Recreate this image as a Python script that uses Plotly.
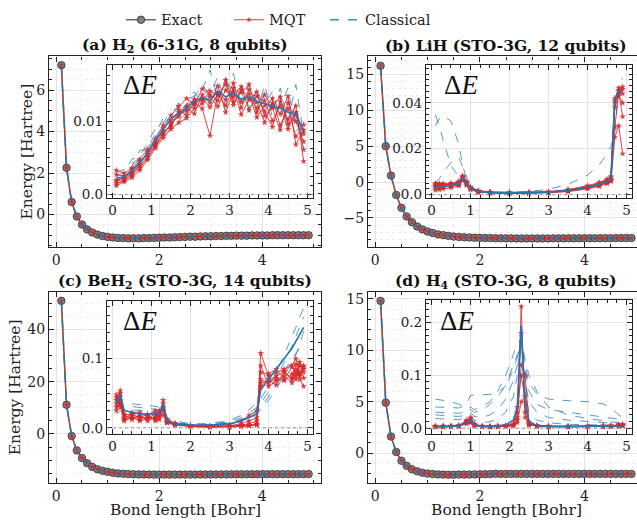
import plotly.graph_objects as go

W, H = 637, 523

# ---------------- data ----------------
BOND = [0.1, 0.2, 0.3, 0.4, 0.5, 0.6, 0.7, 0.8, 0.9, 1.0,
        1.1, 1.2, 1.3, 1.4, 1.5, 1.6, 1.7, 1.8, 1.9, 2.0,
        2.1, 2.2, 2.3, 2.4, 2.5, 2.6, 2.7, 2.8, 2.9, 3.0,
        3.1, 3.2, 3.3, 3.4, 3.5, 3.6, 3.7, 3.8, 3.9, 4.0,
        4.1, 4.2, 4.3, 4.4, 4.5, 4.6, 4.7, 4.8, 4.9]

H2_EXACT = [7.20, 2.25, 0.60, -0.10, -0.48, -0.72, -0.87, -0.97, -1.04, -1.08,
            -1.11, -1.13, -1.14, -1.15, -1.15, -1.15, -1.14, -1.14, -1.13, -1.12,
            -1.11, -1.11, -1.10, -1.09, -1.08, -1.07, -1.07, -1.06, -1.05, -1.05,
            -1.04, -1.04, -1.03, -1.03, -1.02, -1.02, -1.02, -1.01, -1.01, -1.01,
            -1.01, -1.00, -1.00, -1.00, -1.00, -1.00, -1.00, -1.00, -1.00]
LIH_EXACT = [16.20, 5.00, 0.90, -1.80, -3.60, -4.80, -5.60, -6.20, -6.60, -6.90,
             -7.10, -7.30, -7.40, -7.50, -7.60, -7.65, -7.70, -7.73, -7.76, -7.78,
             -7.80, -7.81, -7.83, -7.84, -7.85, -7.85, -7.86, -7.86, -7.86, -7.86,
             -7.86, -7.86, -7.86, -7.85, -7.85, -7.85, -7.84, -7.84, -7.84, -7.83,
             -7.83, -7.83, -7.82, -7.82, -7.82, -7.81, -7.81, -7.81, -7.80]
BEH2_EXACT = [51.0, 11.2, -0.8, -6.3, -9.2, -11.2, -12.6, -13.5, -14.1, -14.5,
              -14.85, -15.1, -15.25, -15.35, -15.42, -15.47, -15.50, -15.53, -15.55, -15.56,
              -15.56, -15.56, -15.56, -15.55, -15.55, -15.54, -15.53, -15.52, -15.51, -15.50,
              -15.49, -15.48, -15.47, -15.46, -15.45, -15.44, -15.43, -15.42, -15.41, -15.40,
              -15.40, -15.39, -15.39, -15.38, -15.38, -15.37, -15.37, -15.37, -15.36]
H4_EXACT = [14.80, 4.90, 1.60, 0.10, -0.75, -1.25, -1.58, -1.78, -1.92, -2.00,
            -2.05, -2.08, -2.10, -2.11, -2.11, -2.10, -2.10, -2.09, -2.08, -2.07,
            -2.06, -2.05, -2.02, -2.04, -2.04, -2.03, -2.03, -2.03, -2.03, -2.03,
            -2.03, -2.03, -2.03, -2.03, -2.03, -2.03, -2.03, -2.03, -2.03, -2.03,
            -2.03, -2.03, -2.03, -2.03, -2.03, -2.03, -2.03, -2.03, -2.03]

# ---- inset: Delta E (H2) ----
H2_DX = [0.1, 0.3, 0.5, 0.7, 0.9, 1.1, 1.3, 1.5, 1.7, 1.9, 2.1, 2.3, 2.5,
         2.7, 2.9, 3.1, 3.3, 3.5, 3.7, 3.9, 4.1, 4.3, 4.5, 4.7, 4.9]
H2_MQT = [
    [0.0020, 0.0022, 0.0030, 0.0041, 0.0058, 0.0072, 0.0090, 0.0101, 0.0112, 0.0121, 0.0130, 0.0128, 0.0141,
     0.0135, 0.0150, 0.0122, 0.0143, 0.0131, 0.0118, 0.0128, 0.0100, 0.0121, 0.0089, 0.0112, 0.0061],
    [0.0015, 0.0019, 0.0026, 0.0036, 0.0050, 0.0066, 0.0081, 0.0097, 0.0106, 0.0118, 0.0110, 0.0136, 0.0125,
     0.0148, 0.0112, 0.0140, 0.0126, 0.0137, 0.0105, 0.0121, 0.0131, 0.0094, 0.0117, 0.0079, 0.0095],
    [0.0027, 0.0025, 0.0034, 0.0045, 0.0055, 0.0070, 0.0086, 0.0092, 0.0115, 0.0108, 0.0126, 0.0117, 0.0080,
     0.0139, 0.0129, 0.0152, 0.0118, 0.0143, 0.0126, 0.0098, 0.0125, 0.0110, 0.0134, 0.0068, 0.0088],
    [0.0012, 0.0017, 0.0023, 0.0033, 0.0047, 0.0063, 0.0077, 0.0089, 0.0098, 0.0104, 0.0117, 0.0124, 0.0133,
     0.0120, 0.0142, 0.0133, 0.0147, 0.0115, 0.0134, 0.0113, 0.0092, 0.0127, 0.0102, 0.0121, 0.0045],
    [0.0033, 0.0029, 0.0036, 0.0048, 0.0061, 0.0076, 0.0094, 0.0108, 0.0120, 0.0131, 0.0122, 0.0144, 0.0136,
     0.0128, 0.0156, 0.0126, 0.0139, 0.0150, 0.0112, 0.0136, 0.0118, 0.0088, 0.0125, 0.0100, 0.0072],
    [0.0018, 0.0021, 0.0028, 0.0039, 0.0052, 0.0068, 0.0083, 0.0095, 0.0109, 0.0114, 0.0124, 0.0131, 0.0119,
     0.0137, 0.0121, 0.0145, 0.0109, 0.0129, 0.0140, 0.0107, 0.0120, 0.0133, 0.0096, 0.0108, 0.0083],
]
H2_CLS = [
    [0.0025, 0.0030, 0.0048, 0.0052, 0.0070, 0.0090, 0.0098, 0.0112, 0.0120, 0.0128, 0.0135, 0.0142, 0.0170,
     0.0130, 0.0155, 0.0140, 0.0128, 0.0150, 0.0120, 0.0138, 0.0110, 0.0145, 0.0100, 0.0150, 0.0080],
    [0.0018, 0.0026, 0.0038, 0.0060, 0.0062, 0.0082, 0.0104, 0.0100, 0.0115, 0.0122, 0.0140, 0.0125, 0.0138,
     0.0160, 0.0120, 0.0145, 0.0152, 0.0118, 0.0135, 0.0125, 0.0140, 0.0105, 0.0128, 0.0098, 0.0090],
    [0.0014, 0.0020, 0.0028, 0.0040, 0.0058, 0.0066, 0.0080, 0.0090, 0.0100, 0.0112, 0.0120, 0.0135, 0.0145,
     0.0122, 0.0160, 0.0130, 0.0140, 0.0112, 0.0145, 0.0115, 0.0125, 0.0135, 0.0090, 0.0125, 0.0065],
    [0.0030, 0.0034, 0.0042, 0.0050, 0.0064, 0.0078, 0.0092, 0.0108, 0.0125, 0.0110, 0.0132, 0.0150, 0.0135,
     0.0148, 0.0138, 0.0165, 0.0122, 0.0140, 0.0110, 0.0150, 0.0105, 0.0120, 0.0145, 0.0085, 0.0100],
]
H2_CLS_MEAN = [0.0022, 0.0024, 0.0032, 0.0044, 0.0056, 0.0074, 0.0088, 0.0104, 0.0110, 0.0118, 0.0127, 0.0132, 0.0128,
               0.0141, 0.0133, 0.0138, 0.0130, 0.0133, 0.0126, 0.0124, 0.0120, 0.0118, 0.0112, 0.0110, 0.0085]

# ---- inset: Delta E (LiH) ----
LIH_DX = [0.1, 0.2, 0.3, 0.5, 0.7, 0.8, 0.9, 1.0, 1.2, 1.5, 2.0, 2.5, 3.0, 3.5, 4.0, 4.3, 4.5, 4.6, 4.7, 4.8, 4.9]
LIH_MQT = [
    [0.0040, 0.0041, 0.0042, 0.0045, 0.0052, 0.0076, 0.0050, 0.0030, 0.0015, 0.0010, 0.0008, 0.0008, 0.0010, 0.0018, 0.0032, 0.0045, 0.0058, 0.0068, 0.0400, 0.0455, 0.0460],
    [0.0030, 0.0031, 0.0033, 0.0036, 0.0043, 0.0068, 0.0045, 0.0025, 0.0012, 0.0008, 0.0006, 0.0007, 0.0009, 0.0015, 0.0028, 0.0040, 0.0052, 0.0062, 0.0295, 0.0440, 0.0440],
    [0.0050, 0.0049, 0.0048, 0.0050, 0.0058, 0.0082, 0.0056, 0.0033, 0.0018, 0.0012, 0.0010, 0.0010, 0.0012, 0.0020, 0.0035, 0.0050, 0.0064, 0.0075, 0.0420, 0.0450, 0.0340],
    [0.0020, 0.0022, 0.0025, 0.0030, 0.0038, 0.0062, 0.0040, 0.0022, 0.0010, 0.0007, 0.0005, 0.0005, 0.0008, 0.0013, 0.0025, 0.0036, 0.0048, 0.0058, 0.0250, 0.0300, 0.0178],
    [0.0035, 0.0036, 0.0038, 0.0040, 0.0047, 0.0072, 0.0048, 0.0028, 0.0014, 0.0009, 0.0007, 0.0007, 0.0011, 0.0017, 0.0030, 0.0042, 0.0055, 0.0064, 0.0380, 0.0430, 0.0400],
    [0.0045, 0.0044, 0.0044, 0.0046, 0.0053, 0.0079, 0.0053, 0.0031, 0.0016, 0.0011, 0.0009, 0.0009, 0.0013, 0.0022, 0.0039, 0.0053, 0.0068, 0.0080, 0.0410, 0.0465, 0.0470],
]
LIH_CLS = [
    [0.0300, 0.0330, 0.0345, 0.0320, 0.0220, 0.0130, 0.0065, 0.0035, 0.0016, 0.0011, 0.0009, 0.0009, 0.0012, 0.0020, 0.0036, 0.0050, 0.0064, 0.0075, 0.0430, 0.0450, 0.0455],
    [0.0347, 0.0300, 0.0237, 0.0125, 0.0080, 0.0070, 0.0050, 0.0030, 0.0015, 0.0010, 0.0008, 0.0008, 0.0011, 0.0019, 0.0034, 0.0048, 0.0061, 0.0071, 0.0400, 0.0440, 0.0450],
    [0.0050, 0.0070, 0.0095, 0.0140, 0.0163, 0.0120, 0.0070, 0.0035, 0.0016, 0.0011, 0.0009, 0.0009, 0.0012, 0.0020, 0.0037, 0.0052, 0.0066, 0.0078, 0.0410, 0.0460, 0.0470],
    [0.0040, 0.0040, 0.0041, 0.0045, 0.0052, 0.0076, 0.0052, 0.0030, 0.0016, 0.0011, 0.0010, 0.0014, 0.0023, 0.0045, 0.0085, 0.0130, 0.0178, 0.0210, 0.0270, 0.0485, 0.0510],
]
LIH_CLS_MEAN = [0.0035, 0.0036, 0.0037, 0.0040, 0.0047, 0.0073, 0.0049, 0.0028, 0.0014, 0.0009, 0.0008, 0.0008, 0.0011, 0.0018, 0.0032, 0.0045, 0.0058, 0.0068, 0.0420, 0.0450, 0.0450]

# ---- inset: Delta E (BeH2) ----
BEH2_DX = [0.1, 0.2, 0.3, 0.5, 0.7, 0.9, 1.1, 1.2, 1.3, 1.4, 1.6, 2.0, 2.5, 3.0, 3.3, 3.5, 3.7, 3.8, 4.0, 4.2, 4.4, 4.6, 4.7, 4.8, 4.9]
BEH2_MQT = [
    [0.040, 0.054, 0.015, 0.018, 0.016, 0.014, 0.020, 0.015, 0.040, 0.010, 0.006, 0.003, 0.002, 0.002, 0.003, 0.004, 0.006, 0.108, 0.075, 0.080, 0.085, 0.090, 0.100, 0.080, 0.085],
    [0.030, 0.045, 0.012, 0.022, 0.012, 0.017, 0.012, 0.025, 0.030, 0.008, 0.005, 0.002, 0.001, 0.001, 0.002, 0.003, 0.004, 0.070, 0.065, 0.072, 0.068, 0.078, 0.070, 0.090, 0.072],
    [0.048, 0.035, 0.020, 0.012, 0.019, 0.010, 0.016, 0.022, 0.018, 0.009, 0.006, 0.003, 0.002, 0.003, 0.006, 0.010, 0.015, 0.060, 0.070, 0.062, 0.080, 0.072, 0.085, 0.075, 0.090],
    [0.025, 0.040, 0.010, 0.015, 0.010, 0.013, 0.014, 0.012, 0.025, 0.007, 0.004, 0.002, 0.001, 0.001, 0.002, 0.003, 0.005, 0.090, 0.060, 0.068, 0.075, 0.065, 0.080, 0.070, 0.060],
    [0.035, 0.050, 0.018, 0.020, 0.022, 0.018, 0.025, 0.018, 0.035, 0.012, 0.007, 0.004, 0.003, 0.005, 0.010, 0.018, 0.025, 0.080, 0.078, 0.085, 0.070, 0.088, 0.075, 0.095, 0.080],
    [0.044, 0.030, 0.013, 0.014, 0.015, 0.020, 0.010, 0.020, 0.028, 0.008, 0.005, 0.003, 0.002, 0.002, 0.004, 0.006, 0.010, 0.065, 0.068, 0.075, 0.082, 0.070, 0.092, 0.078, 0.088],
]
BEH2_CLS = [
    [0.035, 0.040, 0.036, 0.035, 0.034, 0.032, 0.031, 0.030, 0.028, 0.015, 0.010, 0.006, 0.006, 0.011, 0.018, 0.026, 0.036, 0.042, 0.060, 0.080, 0.105, 0.130, 0.145, 0.160, 0.173],
    [0.030, 0.034, 0.032, 0.031, 0.030, 0.029, 0.027, 0.026, 0.025, 0.012, 0.008, 0.005, 0.005, 0.009, 0.015, 0.021, 0.030, 0.036, 0.052, 0.072, 0.095, 0.118, 0.132, 0.146, 0.160],
    [0.025, 0.028, 0.027, 0.026, 0.025, 0.025, 0.024, 0.023, 0.022, 0.010, 0.007, 0.004, 0.004, 0.008, 0.012, 0.017, 0.024, 0.029, 0.045, 0.062, 0.082, 0.100, 0.108, 0.115, 0.120],
    [0.020, 0.024, 0.022, 0.021, 0.020, 0.020, 0.019, 0.019, 0.018, 0.009, 0.006, 0.004, 0.004, 0.007, 0.011, 0.015, 0.021, 0.026, 0.040, 0.056, 0.075, 0.095, 0.105, 0.120, 0.140],
]
BEH2_CLS_MEAN = [0.035, 0.048, 0.025, 0.022, 0.020, 0.020, 0.021, 0.020, 0.035, 0.010, 0.006, 0.004, 0.004, 0.006, 0.010, 0.015, 0.020, 0.055, 0.070, 0.085, 0.100, 0.115, 0.125, 0.135, 0.145]

# ---- inset: Delta E (H4) ----
H4_DX = [0.1, 0.3, 0.5, 0.7, 0.9, 1.0, 1.1, 1.3, 1.5, 1.7, 1.9, 2.1, 2.2, 2.3, 2.4, 2.5, 2.7, 3.0, 3.5, 4.0, 4.4, 4.6, 4.8, 4.9]
H4_MQT = [
    [0.003, 0.003, 0.003, 0.004, 0.012, 0.015, 0.006, 0.003, 0.003, 0.003, 0.004, 0.006, 0.015, 0.231, 0.020, 0.006, 0.004, 0.003, 0.003, 0.003, 0.003, 0.004, 0.005, 0.006],
    [0.002, 0.002, 0.003, 0.004, 0.010, 0.020, 0.008, 0.003, 0.002, 0.003, 0.003, 0.005, 0.020, 0.120, 0.100, 0.010, 0.004, 0.003, 0.002, 0.003, 0.003, 0.003, 0.004, 0.005],
    [0.004, 0.003, 0.004, 0.005, 0.015, 0.012, 0.005, 0.004, 0.003, 0.004, 0.005, 0.008, 0.030, 0.100, 0.050, 0.008, 0.005, 0.004, 0.003, 0.004, 0.004, 0.004, 0.006, 0.007],
    [0.002, 0.002, 0.002, 0.003, 0.008, 0.010, 0.004, 0.002, 0.002, 0.002, 0.003, 0.004, 0.010, 0.050, 0.060, 0.012, 0.003, 0.002, 0.002, 0.002, 0.002, 0.003, 0.003, 0.004],
    [0.003, 0.004, 0.003, 0.004, 0.013, 0.018, 0.007, 0.003, 0.003, 0.004, 0.004, 0.007, 0.040, 0.180, 0.030, 0.006, 0.004, 0.003, 0.003, 0.003, 0.004, 0.004, 0.005, 0.006],
]
H4_CLS = [
    [0.040, 0.040, 0.039, 0.038, 0.045, 0.062, 0.062, 0.063, 0.064, 0.066, 0.080, 0.120, 0.140, 0.153, 0.120, 0.085, 0.065, 0.055, 0.052, 0.050, 0.046, 0.038, 0.025, 0.020],
    [0.055, 0.053, 0.050, 0.045, 0.040, 0.035, 0.030, 0.034, 0.045, 0.060, 0.080, 0.110, 0.135, 0.165, 0.110, 0.070, 0.045, 0.035, 0.030, 0.026, 0.022, 0.020, 0.017, 0.015],
    [0.025, 0.024, 0.023, 0.022, 0.025, 0.030, 0.022, 0.020, 0.025, 0.035, 0.055, 0.090, 0.120, 0.175, 0.090, 0.050, 0.030, 0.020, 0.015, 0.012, 0.010, 0.009, 0.008, 0.008],
    [0.018, 0.017, 0.016, 0.016, 0.020, 0.025, 0.015, 0.010, 0.012, 0.018, 0.030, 0.060, 0.100, 0.185, 0.070, 0.030, 0.015, 0.010, 0.007, 0.006, 0.005, 0.005, 0.005, 0.005],
    [0.030, 0.030, 0.029, 0.028, 0.032, 0.040, 0.035, 0.040, 0.050, 0.070, 0.100, 0.140, 0.160, 0.170, 0.130, 0.100, 0.070, 0.040, 0.025, 0.018, 0.014, 0.012, 0.010, 0.009],
]
H4_CLS_MEAN = [0.002, 0.002, 0.003, 0.004, 0.010, 0.015, 0.006, 0.003, 0.003, 0.004, 0.006, 0.015, 0.040, 0.194, 0.045, 0.012, 0.005, 0.003, 0.003, 0.003, 0.003, 0.003, 0.004, 0.005]

TITLES = ["(a) H<sub>2</sub> (6-31G, 8 qubits)", "(b) LiH (STO-3G, 12 qubits)",
          "(c) BeH<sub>2</sub> (STO-3G, 14 qubits)", "(d) H<sub>4</sub> (STO-3G, 8 qubits)"]
LEGEND_NAMES = ["Exact", "MQT", "Classical"]

# ---------------- style ----------------
FONT = "DejaVu Serif"
RED = "rgba(214,39,40,0.85)"
BLUE_D = "rgba(31,119,180,0.75)"
BLUE = "#1f77b4"
GRID = "#e3e3e3"
AX = "#222222"


def fx(p):
    return p / W


def fy(p):
    return 1 - p / H


panels = [
    dict(exact=H2_EXACT, dx=H2_DX, mqt=H2_MQT, cls=H2_CLS, mean=H2_CLS_MEAN,
         xdom=(49, 321), ydom=(56, 248), ixdom=(107, 313), iydom=(65, 199),
         xr=[-0.14, 5.14], yr=[-1.55, 7.62], ydt=2, ymin=0.5,
         iyr=[-0.0005, 0.0176], itv=[0, 0.01], itt=["0.0", "0.01"], iymin=0.00125,
         mirror_y=True, tx=185, ty=45, dex=121, dey=85),
    dict(exact=LIH_EXACT, dx=LIH_DX, mqt=LIH_MQT, cls=LIH_CLS, mean=LIH_CLS_MEAN,
         xdom=(368, 637), ydom=(56, 248), ixdom=(426, 632), iydom=(65, 199),
         xr=[-0.14, 5.006], yr=[-9.0, 17.5], ydt=5, ymin=1,
         iyr=[-0.0015, 0.0563], itv=[0, 0.02, 0.04], itt=["0.0", "0.02", "0.04"], iymin=0.0025,
         mirror_y=False, tx=506, ty=45, dex=442, dey=85),
    dict(exact=BEH2_EXACT, dx=BEH2_DX, mqt=BEH2_MQT, cls=BEH2_CLS, mean=BEH2_CLS_MEAN,
         xdom=(49, 321), ydom=(294, 487), ixdom=(107, 313), iydom=(303, 437),
         xr=[-0.14, 5.14], yr=[-18.9, 54.3], ydt=20, ymin=5,
         iyr=[-0.0086, 0.183], itv=[0, 0.1], itt=["0.0", "0.1"], iymin=0.0125,
         mirror_y=True, tx=185, ty=283, dex=121, dey=323),
    dict(exact=H4_EXACT, dx=H4_DX, mqt=H4_MQT, cls=H4_CLS, mean=H4_CLS_MEAN,
         xdom=(368, 637), ydom=(294, 487), ixdom=(426, 632), iydom=(302, 437),
         xr=[-0.14, 5.006], yr=[-2.95, 15.65], ydt=5, ymin=1,
         iyr=[-0.011, 0.243], itv=[0, 0.1, 0.2], itt=["0.0", "0.1", "0.2"], iymin=0.0125,
         mirror_y=False, tx=506, ty=283, dex=438, dey=323),
]

fig = go.Figure()
layout = {}
annotations = []
shapes = []

for i, p in enumerate(panels):
    m = i + 1        # main axis index
    n = i + 5        # inset axis index
    mx, my = f"x{m if m > 1 else ''}", f"y{m if m > 1 else ''}"
    ix, iy = f"x{n}", f"y{n}"
    show = (i == 0)

    # ---- main energy curves ----
    fig.add_trace(go.Scatter(
        x=BOND, y=p["exact"], xaxis=mx, yaxis=my, mode="lines+markers",
        name=LEGEND_NAMES[0], showlegend=show, legend="legend",
        line=dict(color="#6a6a6a", width=1.5),
        marker=dict(symbol="circle", size=7.5, color="#7f7f7f", line=dict(color="#303030", width=0.8))))
    fig.add_trace(go.Scatter(
        x=BOND, y=p["exact"], xaxis=mx, yaxis=my, mode="lines+markers",
        name=LEGEND_NAMES[1], showlegend=show, legend="legend2",
        line=dict(color=RED, width=1.1),
        marker=dict(symbol="star", size=4.5, color=RED, line=dict(width=0))))
    fig.add_trace(go.Scatter(
        x=BOND, y=p["exact"], xaxis=mx, yaxis=my, mode="lines",
        name=LEGEND_NAMES[2], showlegend=show, legend="legend3",
        line=dict(color="rgba(31,119,180,0.85)", width=1.6, dash="dash")))

    # ---- inset delta E ----
    for s in p["cls"]:
        fig.add_trace(go.Scatter(x=p["dx"], y=s, xaxis=ix, yaxis=iy, mode="lines", showlegend=False,
                                 line=dict(color=BLUE_D, width=1.0, dash="dash")))
    for s in p["mqt"]:
        fig.add_trace(go.Scatter(x=p["dx"], y=s, xaxis=ix, yaxis=iy, mode="lines+markers", showlegend=False,
                                 line=dict(color=RED, width=1.0),
                                 marker=dict(symbol="star", size=5, color=RED, line=dict(width=0))))
    fig.add_trace(go.Scatter(x=p["dx"], y=p["mean"], xaxis=ix, yaxis=iy, mode="lines", showlegend=False,
                             line=dict(color=BLUE, width=1.6)))

    common = dict(showline=True, linecolor=AX, linewidth=1.2, ticks="inside", ticklen=5, tickwidth=1,
                  tickcolor=AX, showgrid=True, gridcolor=GRID, gridwidth=0.8, zeroline=False)
    minor_main_x = dict(ticks="inside", ticklen=3, tickcolor=AX, dtick=0.5, showgrid=True,
                        gridcolor="#ededed", griddash="dot")

    layout[f"xaxis{m if m > 1 else ''}"] = dict(
        common, domain=[fx(p["xdom"][0]), fx(p["xdom"][1])], anchor=my, range=p["xr"],
        tick0=0, dtick=2, mirror="allticks", minor=minor_main_x,
        tickfont=dict(family=FONT, size=14, color="#222"))
    layout[f"yaxis{m if m > 1 else ''}"] = dict(
        common, domain=[fy(p["ydom"][1]), fy(p["ydom"][0])], anchor=mx, range=p["yr"],
        tick0=0, dtick=p["ydt"], mirror="allticks" if p["mirror_y"] else False,
        minor=dict(ticks="inside", ticklen=3, tickcolor=AX, dtick=p["ymin"], showgrid=True,
                   gridcolor="#ededed", griddash="dot"),
        tickfont=dict(family=FONT, size=14, color="#222"))

    layout[f"xaxis{n}"] = dict(
        common, domain=[fx(p["ixdom"][0]), fx(p["ixdom"][1])], anchor=iy, range=[-0.14, 5.14],
        tick0=0, dtick=1, mirror="allticks",
        minor=dict(ticks="inside", ticklen=3, tickcolor=AX, dtick=0.25),
        tickfont=dict(family=FONT, size=13.5, color="#222"))
    layout[f"yaxis{n}"] = dict(
        common, domain=[fy(p["iydom"][1]), fy(p["iydom"][0])], anchor=ix, range=p["iyr"],
        tickmode="array", tickvals=p["itv"], ticktext=p["itt"], mirror="allticks",
        minor=dict(ticks="inside", ticklen=3, tickcolor=AX, dtick=p["iymin"], tick0=0),
        tickfont=dict(family=FONT, size=13.5, color="#222"))

    # zero line in inset
    shapes.append(dict(type="line", xref=f"{ix} domain", yref=iy, x0=0, x1=1, y0=0, y1=0,
                       line=dict(color="#999999", width=1, dash="dot")))

    annotations.append(dict(text=f"<b>{TITLES[i]}</b>", x=fx(p["tx"]), y=fy(p["ty"]), xref="paper", yref="paper",
                            showarrow=False, xanchor="center", yanchor="middle",
                            font=dict(family=FONT, size=15.5, color="#111")))
    annotations.append(dict(text="Δ<i>E</i>", x=fx(p["dex"]), y=fy(p["dey"]), xref="paper", yref="paper",
                            showarrow=False, xanchor="left", yanchor="middle",
                            font=dict(family="Liberation Serif", size=27, color="#111")))

# axis titles
for xc, yc in ((27, 152), (15, 390)):
    annotations.append(dict(text="Energy [Hartree]", x=fx(xc), y=fy(yc), xref="paper", yref="paper",
                            showarrow=False, textangle=-90, xanchor="center", yanchor="middle",
                            font=dict(family=FONT, size=15.5, color="#222")))
for xc in (185, 506):
    annotations.append(dict(text="Bond length [Bohr]", x=fx(xc), y=fy(514), xref="paper", yref="paper",
                            showarrow=False, xanchor="center", yanchor="middle",
                            font=dict(family=FONT, size=15.5, color="#222")))

leg_common = dict(orientation="h", y=fy(19), yanchor="middle", xanchor="left",
                  font=dict(family=FONT, size=14.5, color="#222"), bgcolor="rgba(0,0,0,0)",
                  borderwidth=0, itemwidth=30)

fig.update_layout(
    width=W, height=H, margin=dict(l=0, r=0, t=0, b=0),
    paper_bgcolor="white", plot_bgcolor="white",
    showlegend=True,
    legend=dict(leg_common, x=fx(121)),
    legend2=dict(leg_common, x=fx(229)),
    legend3=dict(leg_common, x=fx(325)),
    annotations=annotations, shapes=shapes,
    **layout)

fig.write_html("out.html", config={"displayModeBar": False},
               post_script="document.body.style.margin='0';document.body.style.padding='0';"
                           "document.documentElement.style.overflow='hidden';")
